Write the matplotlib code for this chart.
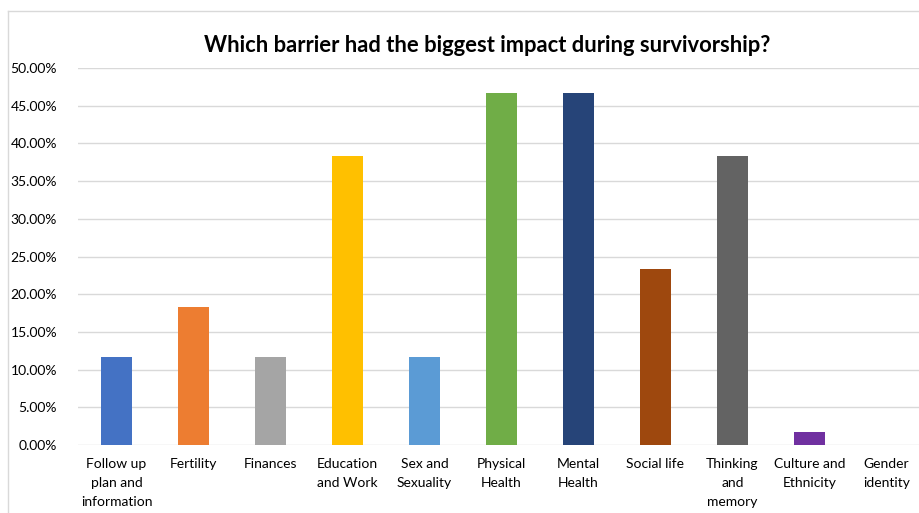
import matplotlib.pyplot as plt
from matplotlib.lines import Line2D
from matplotlib.ticker import PercentFormatter

categories = ["Follow up\nplan and\ninformation", "Fertility", "Finances", "Education\nand Work",
              "Sex and\nSexuality", "Physical\nHealth", "Mental\nHealth", "Social life",
              "Thinking\nand\nmemory", "Culture and\nEthnicity", "Gender\nidentity"]
values = [11.67, 18.33, 11.67, 38.33, 11.67, 46.67, 46.67, 23.33, 38.33, 1.67, 0.0]
colors = ["#4472C4", "#ED7D31", "#A5A5A5", "#FFC000", "#5B9BD5", "#70AD47",
          "#264478", "#9E480E", "#636363", "#7030A0", "#997300"]
title = "Which barrier had the biggest impact during survivorship?"

plt.rcParams['font.family'] = ['Lato', 'DejaVu Sans']

W, H = 920, 513
fig = plt.figure(figsize=(W / 100, H / 100), dpi=100)

# the plot area runs past the right edge, as in the cropped screenshot
ax = fig.add_axes([78 / W, 68 / H, 847 / W, 377 / H])
x = range(len(categories))
ax.bar(x, values, width=0.40, color=colors, zorder=3)
ax.set_xlim(-0.5, len(categories) - 0.5)
ax.set_ylim(0, 50)
ax.set_yticks(range(0, 51, 5))
ax.yaxis.set_major_formatter(PercentFormatter(decimals=2))
ax.set_xticks(list(x))
ax.set_xticklabels(categories, fontsize=10, linespacing=1.75, va="top")
ax.tick_params(axis="both", length=0, labelsize=10, colors="#000000")
ax.tick_params(axis="x", pad=9)
ax.tick_params(axis="y", pad=15)
ax.grid(axis="y", color="#d9d9d9", linewidth=1, zorder=0)
for s in ax.spines.values():
    s.set_visible(False)

# outer chart frame
fig.add_artist(Line2D([8 / W, 1], [1 - 11 / H, 1 - 11 / H], color="#d9d9d9", lw=1))
fig.add_artist(Line2D([8 / W, 8 / W], [0, 1 - 11 / H], color="#d9d9d9", lw=1))

fig.text(487 / W, 1 - 45 / H, title, ha="center", va="center", fontsize=15.8, fontweight="bold")

fig.savefig("out.png", dpi=100)
